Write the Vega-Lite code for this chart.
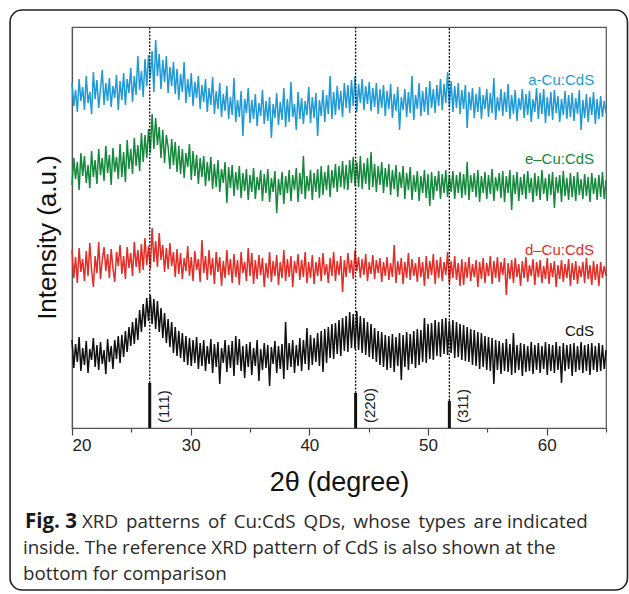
{
  "$schema": "https://vega.github.io/schema/vega-lite/v6.json",
  "width": 534,
  "height": 401,
  "autosize": {"type": "none"},
  "padding": {"left": 72, "top": 27, "right": 23, "bottom": 166},
  "background": "white",
  "config": {
    "view": {"stroke": "#555", "strokeWidth": 1.2},
    "axis": {"grid": false}
  },
  "datasets": {
    "xrd": [
      {"x":20,"a":345,"e":243,"d":178,"c":88},{"x":20.15,"a":322,"e":270,"d":150,"c":60},{"x":20.3,"a":338,"e":249,"d":171,"c":84},{"x":20.45,"a":316,"e":266,"d":145,"c":66},{"x":20.6,"a":349,"e":238,"d":180,"c":91},{"x":20.75,"a":327,"e":275,"d":156,"c":57},{"x":20.9,"a":341,"e":252,"d":169,"c":80},{"x":21.05,"a":318,"e":272,"d":147,"c":63},{"x":21.2,"a":352,"e":245,"d":177,"c":87},{"x":21.35,"a":325,"e":263,"d":152,"c":55},
      {"x":21.5,"a":336,"e":240,"d":185,"c":79},{"x":21.65,"a":314,"e":277,"d":158,"c":68},{"x":21.8,"a":356,"e":251,"d":141,"c":90},{"x":21.95,"a":329,"e":268,"d":172,"c":61},{"x":22.1,"a":348,"e":244,"d":155,"c":83},{"x":22.25,"a":320,"e":279,"d":186,"c":58},{"x":22.4,"a":339,"e":253,"d":149,"c":86},{"x":22.55,"a":358,"e":270,"d":168,"c":64},{"x":22.7,"a":323,"e":247,"d":181,"c":78},{"x":22.85,"a":345,"e":282,"d":157,"c":54},
      {"x":23,"a":327,"e":255,"d":174,"c":89},{"x":23.15,"a":350,"e":273,"d":150,"c":66},{"x":23.3,"a":321,"e":243,"d":179,"c":82},{"x":23.45,"a":342,"e":280,"d":160,"c":59},{"x":23.6,"a":330,"e":256,"d":146,"c":88},{"x":23.75,"a":353,"e":271,"d":176,"c":69},{"x":23.9,"a":318,"e":249,"d":162,"c":92},{"x":24.05,"a":347,"e":284,"d":183,"c":65},{"x":24.2,"a":328,"e":251,"d":154,"c":93},{"x":24.35,"a":355,"e":276,"d":172,"c":71},
      {"x":24.5,"a":323,"e":246,"d":149,"c":97},{"x":24.65,"a":349,"e":288,"d":181,"c":76},{"x":24.8,"a":335,"e":259,"d":160,"c":101},{"x":24.95,"a":360,"e":279,"d":175,"c":82},{"x":25.1,"a":326,"e":254,"d":152,"c":106},{"x":25.25,"a":352,"e":290,"d":186,"c":84},{"x":25.4,"a":333,"e":262,"d":161,"c":110},{"x":25.55,"a":372,"e":283,"d":178,"c":88},{"x":25.7,"a":338,"e":257,"d":155,"c":118},{"x":25.85,"a":357,"e":295,"d":184,"c":96},
      {"x":26,"a":331,"e":266,"d":158,"c":124},{"x":26.15,"a":369,"e":293,"d":190,"c":101},{"x":26.3,"a":342,"e":270,"d":163,"c":130},{"x":26.45,"a":373,"e":299,"d":182,"c":107},{"x":26.6,"a":350,"e":275,"d":159,"c":133},{"x":26.75,"a":377,"e":314,"d":200,"c":104},{"x":26.9,"a":336,"e":279,"d":166,"c":129},{"x":27.05,"a":388,"e":310,"d":187,"c":99},{"x":27.2,"a":352,"e":283,"d":161,"c":127},{"x":27.35,"a":374,"e":301,"d":195,"c":96},
      {"x":27.5,"a":339,"e":270,"d":168,"c":120},{"x":27.65,"a":368,"e":298,"d":183,"c":90},{"x":27.8,"a":346,"e":265,"d":156,"c":115},{"x":27.95,"a":372,"e":293,"d":180,"c":85},{"x":28.1,"a":335,"e":281,"d":159,"c":109},{"x":28.25,"a":361,"e":259,"d":185,"c":81},{"x":28.4,"a":342,"e":289,"d":162,"c":106},{"x":28.55,"a":366,"e":263,"d":176,"c":75},{"x":28.7,"a":334,"e":286,"d":151,"c":101},{"x":28.85,"a":359,"e":256,"d":179,"c":72},
      {"x":29,"a":328,"e":282,"d":154,"c":97},{"x":29.15,"a":354,"e":254,"d":175,"c":70},{"x":29.3,"a":336,"e":279,"d":149,"c":95},{"x":29.45,"a":366,"e":250,"d":170,"c":66},{"x":29.6,"a":325,"e":275,"d":157,"c":92},{"x":29.75,"a":349,"e":261,"d":182,"c":63},{"x":29.9,"a":331,"e":284,"d":152,"c":90},{"x":30.05,"a":355,"e":248,"d":171,"c":62},{"x":30.2,"a":322,"e":277,"d":147,"c":88},{"x":30.35,"a":346,"e":252,"d":177,"c":65},
      {"x":30.5,"a":330,"e":273,"d":158,"c":91},{"x":30.65,"a":352,"e":244,"d":169,"c":59},{"x":30.8,"a":319,"e":270,"d":146,"c":85},{"x":30.95,"a":343,"e":251,"d":188,"c":62},{"x":31.1,"a":326,"e":272,"d":155,"c":88},{"x":31.25,"a":349,"e":242,"d":172,"c":57},{"x":31.4,"a":316,"e":266,"d":148,"c":82},{"x":31.55,"a":340,"e":247,"d":178,"c":64},{"x":31.7,"a":323,"e":271,"d":153,"c":89},{"x":31.85,"a":351,"e":239,"d":170,"c":55},
      {"x":32,"a":314,"e":264,"d":144,"c":84},{"x":32.15,"a":337,"e":241,"d":176,"c":61},{"x":32.3,"a":319,"e":268,"d":156,"c":86},{"x":32.45,"a":345,"e":236,"d":171,"c":44},{"x":32.6,"a":311,"e":259,"d":142,"c":80},{"x":32.75,"a":334,"e":245,"d":167,"c":65},{"x":32.9,"a":317,"e":266,"d":150,"c":88},{"x":33.05,"a":342,"e":225,"d":178,"c":56},{"x":33.2,"a":309,"e":261,"d":153,"c":83},{"x":33.35,"a":331,"e":240,"d":169,"c":60},
      {"x":33.5,"a":313,"e":263,"d":145,"c":87},{"x":33.65,"a":350,"e":232,"d":174,"c":52},{"x":33.8,"a":306,"e":256,"d":151,"c":92},{"x":33.95,"a":328,"e":238,"d":168,"c":63},{"x":34.1,"a":311,"e":262,"d":143,"c":89},{"x":34.25,"a":337,"e":230,"d":176,"c":57},{"x":34.4,"a":292,"e":255,"d":155,"c":82},{"x":34.55,"a":329,"e":237,"d":166,"c":50},{"x":34.7,"a":315,"e":259,"d":147,"c":84},{"x":34.85,"a":340,"e":228,"d":180,"c":61},
      {"x":35,"a":305,"e":253,"d":152,"c":86},{"x":35.15,"a":328,"e":236,"d":175,"c":53},{"x":35.3,"a":309,"e":260,"d":144,"c":80},{"x":35.45,"a":334,"e":229,"d":168,"c":62},{"x":35.6,"a":302,"e":251,"d":149,"c":88},{"x":35.75,"a":325,"e":238,"d":173,"c":47},{"x":35.9,"a":312,"e":258,"d":153,"c":79},{"x":36.05,"a":338,"e":227,"d":170,"c":58},{"x":36.2,"a":304,"e":254,"d":141,"c":85},{"x":36.35,"a":327,"e":235,"d":165,"c":60},
      {"x":36.5,"a":307,"e":259,"d":150,"c":83},{"x":36.65,"a":331,"e":226,"d":176,"c":42},{"x":36.8,"a":290,"e":250,"d":146,"c":81},{"x":36.95,"a":324,"e":236,"d":167,"c":64},{"x":37.1,"a":310,"e":257,"d":152,"c":87},{"x":37.25,"a":335,"e":215,"d":173,"c":55},{"x":37.4,"a":303,"e":249,"d":143,"c":82},{"x":37.55,"a":326,"e":233,"d":166,"c":59},{"x":37.7,"a":308,"e":256,"d":150,"c":84},{"x":37.85,"a":340,"e":224,"d":178,"c":49},
      {"x":38,"a":301,"e":252,"d":147,"c":106},{"x":38.15,"a":329,"e":235,"d":169,"c":58},{"x":38.3,"a":306,"e":258,"d":151,"c":85},{"x":38.45,"a":346,"e":227,"d":172,"c":61},{"x":38.6,"a":311,"e":253,"d":141,"c":88},{"x":38.75,"a":324,"e":238,"d":167,"c":55},{"x":38.9,"a":298,"e":260,"d":155,"c":83},{"x":39.05,"a":336,"e":226,"d":174,"c":62},{"x":39.2,"a":309,"e":255,"d":148,"c":90},{"x":39.35,"a":330,"e":234,"d":168,"c":57},
      {"x":39.5,"a":304,"e":272,"d":151,"c":88},{"x":39.65,"a":327,"e":229,"d":176,"c":64},{"x":39.8,"a":313,"e":252,"d":145,"c":100},{"x":39.95,"a":341,"e":237,"d":166,"c":58},{"x":40.1,"a":305,"e":258,"d":150,"c":93},{"x":40.25,"a":331,"e":228,"d":173,"c":63},{"x":40.4,"a":310,"e":255,"d":144,"c":90},{"x":40.55,"a":335,"e":236,"d":166,"c":66},{"x":40.7,"a":292,"e":259,"d":152,"c":95},{"x":40.85,"a":328,"e":230,"d":171,"c":62},
      {"x":41,"a":312,"e":262,"d":147,"c":97},{"x":41.15,"a":338,"e":233,"d":175,"c":56},{"x":41.3,"a":306,"e":256,"d":153,"c":99},{"x":41.45,"a":333,"e":238,"d":164,"c":65},{"x":41.6,"a":314,"e":263,"d":145,"c":101},{"x":41.75,"a":352,"e":231,"d":170,"c":70},{"x":41.9,"a":309,"e":258,"d":152,"c":104},{"x":42.05,"a":336,"e":240,"d":176,"c":69},{"x":42.2,"a":313,"e":264,"d":147,"c":105},{"x":42.35,"a":342,"e":236,"d":167,"c":74},
      {"x":42.5,"a":318,"e":262,"d":153,"c":108},{"x":42.65,"a":337,"e":241,"d":172,"c":72},{"x":42.8,"a":311,"e":267,"d":136,"c":110},{"x":42.95,"a":345,"e":239,"d":168,"c":77},{"x":43.1,"a":320,"e":263,"d":151,"c":112},{"x":43.25,"a":343,"e":238,"d":175,"c":76},{"x":43.4,"a":315,"e":268,"d":155,"c":116},{"x":43.55,"a":348,"e":245,"d":168,"c":80},{"x":43.7,"a":322,"e":271,"d":149,"c":114},{"x":43.85,"a":352,"e":242,"d":178,"c":79},
      {"x":44,"a":316,"e":266,"d":157,"c":117},{"x":44.15,"a":344,"e":241,"d":171,"c":78},{"x":44.3,"a":325,"e":272,"d":150,"c":112},{"x":44.45,"a":349,"e":239,"d":169,"c":75},{"x":44.6,"a":318,"e":265,"d":153,"c":110},{"x":44.75,"a":342,"e":244,"d":174,"c":73},{"x":44.9,"a":324,"e":270,"d":147,"c":106},{"x":45.05,"a":346,"e":238,"d":166,"c":71},{"x":45.2,"a":317,"e":276,"d":154,"c":104},{"x":45.35,"a":340,"e":241,"d":173,"c":69},
      {"x":45.5,"a":321,"e":264,"d":149,"c":100},{"x":45.65,"a":345,"e":236,"d":168,"c":66},{"x":45.8,"a":314,"e":262,"d":155,"c":97},{"x":45.95,"a":339,"e":243,"d":170,"c":63},{"x":46.1,"a":320,"e":266,"d":146,"c":96},{"x":46.25,"a":343,"e":235,"d":166,"c":61},{"x":46.4,"a":312,"e":260,"d":152,"c":93},{"x":46.55,"a":337,"e":241,"d":171,"c":58},{"x":46.7,"a":319,"e":264,"d":148,"c":92},{"x":46.85,"a":344,"e":233,"d":165,"c":60},
      {"x":47,"a":310,"e":258,"d":151,"c":94},{"x":47.15,"a":334,"e":239,"d":183,"c":56},{"x":47.3,"a":317,"e":263,"d":145,"c":91},{"x":47.45,"a":341,"e":231,"d":167,"c":62},{"x":47.6,"a":298,"e":256,"d":153,"c":95},{"x":47.75,"a":331,"e":240,"d":170,"c":48},{"x":47.9,"a":318,"e":262,"d":144,"c":93},{"x":48.05,"a":339,"e":229,"d":166,"c":61},{"x":48.2,"a":311,"e":255,"d":150,"c":96},{"x":48.35,"a":336,"e":238,"d":175,"c":58},
      {"x":48.5,"a":315,"e":261,"d":148,"c":94},{"x":48.65,"a":352,"e":228,"d":169,"c":64},{"x":48.8,"a":308,"e":253,"d":152,"c":97},{"x":48.95,"a":333,"e":236,"d":165,"c":60},{"x":49.1,"a":319,"e":257,"d":146,"c":99},{"x":49.25,"a":345,"e":227,"d":171,"c":63},{"x":49.4,"a":312,"e":252,"d":151,"c":98},{"x":49.55,"a":337,"e":235,"d":166,"c":66},{"x":49.7,"a":316,"e":258,"d":142,"c":110},{"x":49.85,"a":341,"e":230,"d":172,"c":65},
      {"x":50,"a":313,"e":254,"d":149,"c":104},{"x":50.15,"a":347,"e":222,"d":167,"c":69},{"x":50.3,"a":320,"e":256,"d":153,"c":105},{"x":50.45,"a":339,"e":228,"d":174,"c":68},{"x":50.6,"a":315,"e":252,"d":144,"c":108},{"x":50.75,"a":343,"e":237,"d":168,"c":72},{"x":50.9,"a":322,"e":257,"d":150,"c":106},{"x":51.05,"a":349,"e":229,"d":171,"c":71},{"x":51.2,"a":318,"e":254,"d":147,"c":109},{"x":51.35,"a":344,"e":235,"d":166,"c":74},
      {"x":51.5,"a":325,"e":258,"d":153,"c":110},{"x":51.65,"a":356,"e":231,"d":176,"c":73},{"x":51.8,"a":321,"e":253,"d":144,"c":107},{"x":51.95,"a":347,"e":236,"d":167,"c":75},{"x":52.1,"a":316,"e":257,"d":150,"c":108},{"x":52.25,"a":342,"e":229,"d":172,"c":70},{"x":52.4,"a":320,"e":253,"d":148,"c":106},{"x":52.55,"a":345,"e":235,"d":165,"c":71},{"x":52.7,"a":314,"e":256,"d":142,"c":104},{"x":52.85,"a":338,"e":230,"d":169,"c":68},
      {"x":53,"a":319,"e":254,"d":143,"c":103},{"x":53.15,"a":343,"e":233,"d":166,"c":67},{"x":53.3,"a":300,"e":266,"d":150,"c":101},{"x":53.45,"a":336,"e":228,"d":171,"c":66},{"x":53.6,"a":318,"e":253,"d":147,"c":99},{"x":53.75,"a":340,"e":236,"d":164,"c":63},{"x":53.9,"a":310,"e":255,"d":151,"c":98},{"x":54.05,"a":334,"e":231,"d":168,"c":62},{"x":54.2,"a":316,"e":258,"d":141,"c":96},{"x":54.35,"a":341,"e":226,"d":166,"c":59},
      {"x":54.5,"a":309,"e":252,"d":149,"c":95},{"x":54.65,"a":333,"e":235,"d":170,"c":61},{"x":54.8,"a":319,"e":256,"d":145,"c":92},{"x":54.95,"a":339,"e":229,"d":165,"c":58},{"x":55.1,"a":311,"e":253,"d":152,"c":91},{"x":55.25,"a":335,"e":234,"d":172,"c":57},{"x":55.4,"a":315,"e":259,"d":144,"c":90},{"x":55.55,"a":350,"e":227,"d":167,"c":44},{"x":55.7,"a":308,"e":251,"d":150,"c":88},{"x":55.85,"a":331,"e":237,"d":171,"c":58},
      {"x":56,"a":317,"e":255,"d":146,"c":87},{"x":56.15,"a":339,"e":230,"d":166,"c":54},{"x":56.3,"a":312,"e":257,"d":153,"c":85},{"x":56.45,"a":336,"e":226,"d":170,"c":57},{"x":56.6,"a":316,"e":252,"d":133,"c":89},{"x":56.75,"a":344,"e":235,"d":165,"c":56},{"x":56.9,"a":309,"e":258,"d":149,"c":84},{"x":57.05,"a":333,"e":218,"d":168,"c":53},{"x":57.2,"a":314,"e":253,"d":145,"c":95},{"x":57.35,"a":338,"e":234,"d":170,"c":55},
      {"x":57.5,"a":307,"e":256,"d":151,"c":83},{"x":57.65,"a":330,"e":227,"d":164,"c":58},{"x":57.8,"a":318,"e":251,"d":142,"c":85},{"x":57.95,"a":339,"e":233,"d":167,"c":52},{"x":58.1,"a":310,"e":254,"d":150,"c":84},{"x":58.25,"a":334,"e":229,"d":171,"c":56},{"x":58.4,"a":313,"e":257,"d":146,"c":82},{"x":58.55,"a":337,"e":235,"d":163,"c":57},{"x":58.7,"a":306,"e":250,"d":152,"c":86},{"x":58.85,"a":329,"e":226,"d":169,"c":54},
      {"x":59,"a":316,"e":255,"d":143,"c":83},{"x":59.15,"a":340,"e":232,"d":166,"c":58},{"x":59.3,"a":309,"e":252,"d":151,"c":85},{"x":59.45,"a":335,"e":228,"d":168,"c":55},{"x":59.6,"a":314,"e":258,"d":145,"c":82},{"x":59.75,"a":339,"e":234,"d":162,"c":59},{"x":59.9,"a":305,"e":250,"d":149,"c":86},{"x":60.05,"a":331,"e":227,"d":170,"c":53},{"x":60.2,"a":312,"e":254,"d":144,"c":84},{"x":60.35,"a":336,"e":233,"d":165,"c":57},
      {"x":60.5,"a":308,"e":256,"d":151,"c":83},{"x":60.65,"a":338,"e":220,"d":167,"c":55},{"x":60.8,"a":315,"e":251,"d":141,"c":86},{"x":60.95,"a":332,"e":235,"d":163,"c":58},{"x":61.1,"a":306,"e":253,"d":149,"c":82},{"x":61.25,"a":329,"e":226,"d":168,"c":45},{"x":61.4,"a":313,"e":257,"d":146,"c":85},{"x":61.55,"a":337,"e":232,"d":164,"c":57},{"x":61.7,"a":309,"e":250,"d":150,"c":83},{"x":61.85,"a":333,"e":228,"d":169,"c":59},
      {"x":62,"a":311,"e":255,"d":142,"c":84},{"x":62.15,"a":335,"e":231,"d":165,"c":52},{"x":62.3,"a":307,"e":252,"d":148,"c":85},{"x":62.45,"a":330,"e":227,"d":167,"c":56},{"x":62.6,"a":314,"e":256,"d":144,"c":82},{"x":62.75,"a":338,"e":233,"d":162,"c":58},{"x":62.9,"a":298,"e":249,"d":151,"c":86},{"x":63.05,"a":328,"e":229,"d":166,"c":55},{"x":63.2,"a":310,"e":254,"d":145,"c":83},{"x":63.35,"a":334,"e":232,"d":170,"c":57},
      {"x":63.5,"a":306,"e":251,"d":149,"c":84},{"x":63.65,"a":331,"e":226,"d":163,"c":53},{"x":63.8,"a":313,"e":255,"d":143,"c":85},{"x":63.95,"a":336,"e":234,"d":167,"c":58},{"x":64.1,"a":304,"e":250,"d":148,"c":82},{"x":64.25,"a":329,"e":228,"d":164,"c":56},{"x":64.4,"a":309,"e":253,"d":142,"c":85},{"x":64.55,"a":332,"e":231,"d":166,"c":57},{"x":64.7,"a":311,"e":256,"d":150,"c":83},{"x":64.85,"a":327,"e":229,"d":162,"c":59},
      {"x":65,"a":315,"e":248,"d":152,"c":78}
    ],
    "refs": [
      {"pos": 26.55, "h": 45, "hkl": "(111)"},
      {"pos": 43.9, "h": 35, "hkl": "(220)"},
      {"pos": 51.8, "h": 27, "hkl": "(311)"}
    ],
    "names": [
      {"s": "a", "name": "a-Cu:CdS", "lx": 64.0, "ly": 348},
      {"s": "e", "name": "e–Cu:CdS", "lx": 64.0, "ly": 269},
      {"s": "d", "name": "d–Cu:CdS", "lx": 64.0, "ly": 178},
      {"s": "c", "name": "CdS", "lx": 64.0, "ly": 97}
    ]
  },
  "layer": [
    {
      "data": {"values": [{"k": 1}]},
      "mark": {"type": "rect", "filled": false, "stroke": "#222", "strokeWidth": 1.6, "cornerRadius": 12},
      "encoding": {
        "x": {"datum": 14.78, "type": "quantitative"},
        "x2": {"datum": 66.81},
        "y": {"datum": 418, "type": "quantitative"},
        "y2": {"datum": -162}
      }
    },
    {
      "data": {"name": "xrd"},
      "transform": [{"fold": ["a", "e", "d", "c"], "as": ["series", "v"]}],
      "mark": {"type": "line", "strokeWidth": 1.5, "interpolate": "linear"},
      "encoding": {
        "x": {
          "field": "x", "type": "quantitative", "title": "2θ (degree)",
          "scale": {"domain": [20, 65], "nice": false, "zero": false},
          "axis": {
            "values": [20, 25, 30, 35, 40, 45, 50, 55, 60, 65],
            "labelExpr": "datum.value % 10 === 0 ? datum.label : ''",
            "tickSize": {"condition": {"test": "datum.value % 10 === 0", "value": 7}, "value": 4},
            "tickColor": "#444", "domainColor": "#555", "domainWidth": 1.2, "tickWidth": 1.2,
            "labelFont": "Liberation Sans", "labelFontSize": 17, "labelColor": "#222", "labelPadding": 2,
            "titleFont": "Liberation Sans", "titleFontSize": 27, "titleFontWeight": "normal", "titleColor": "#111", "titlePadding": 16
          }
        },
        "y": {
          "field": "v", "type": "quantitative", "title": "Intensity (a.u.)",
          "scale": {"domain": [0, 401], "nice": false, "zero": false},
          "axis": {
            "labels": false, "ticks": false, "domainColor": "#555", "domainWidth": 1.2,
            "titleFont": "Liberation Sans", "titleFontSize": 26, "titleFontWeight": "normal", "titleColor": "#111", "titlePadding": 12, "titleY": 210
          }
        },
        "color": {
          "field": "series", "type": "nominal", "legend": null,
          "scale": {"domain": ["a", "e", "d", "c"], "range": ["#1f9ad6", "#14893c", "#e42d26", "#111111"]}
        }
      }
    },
    {
      "data": {"name": "refs"},
      "mark": {"type": "rule", "strokeDash": [2, 1.5], "strokeWidth": 1.3, "color": "#111"},
      "encoding": {
        "x": {"field": "pos", "type": "quantitative", "title": "2θ (degree)"},
        "y": {"field": "h", "type": "quantitative", "title": "Intensity (a.u.)"},
        "y2": {"datum": 401}
      }
    },
    {
      "data": {"name": "refs"},
      "mark": {"type": "rule", "strokeWidth": 3, "color": "#111"},
      "encoding": {
        "x": {"field": "pos", "type": "quantitative", "title": "2θ (degree)"},
        "y": {"field": "h", "type": "quantitative", "title": "Intensity (a.u.)"},
        "y2": {"datum": 0}
      }
    },
    {
      "data": {"name": "refs"},
      "mark": {"type": "text", "angle": 270, "align": "left", "baseline": "middle", "dy": 14, "font": "Liberation Sans", "fontSize": 15, "color": "#222"},
      "encoding": {
        "x": {"field": "pos", "type": "quantitative", "title": "2θ (degree)"},
        "y": {"datum": 5, "type": "quantitative"},
        "text": {"field": "hkl", "type": "nominal"}
      }
    },
    {
      "data": {"name": "names"},
      "mark": {"type": "text", "align": "right", "baseline": "middle", "font": "Liberation Sans", "fontSize": 15},
      "encoding": {
        "x": {"field": "lx", "type": "quantitative", "title": "2θ (degree)"},
        "y": {"field": "ly", "type": "quantitative", "title": "Intensity (a.u.)"},
        "text": {"field": "name", "type": "nominal"},
        "color": {"field": "s", "type": "nominal", "legend": null}
      }
    },
    {
      "data": {"values": [{"t": "Fig. 3"}]},
      "mark": {"type": "text", "align": "left", "baseline": "middle", "font": "Open Sans", "fontSize": 20.5, "fontWeight": "bold", "color": "#1a1a1a", "dx": -47},
      "encoding": {
        "x": {"datum": 20, "type": "quantitative"},
        "y": {"datum": -94, "type": "quantitative"},
        "text": {"field": "t", "type": "nominal"}
      }
    },
    {
      "data": {"values": [
        {"t": "XRD \u2009patterns \u2009of \u2009Cu:CdS \u2009QDs, \u2009whose \u2009types \u2009are indicated", "line": -94}
      ]},
      "mark": {"type": "text", "align": "left", "baseline": "middle", "font": "Open Sans", "fontSize": 18.8, "color": "#2a2a2a", "dx": 10},
      "encoding": {
        "x": {"datum": 20, "type": "quantitative"},
        "y": {"field": "line", "type": "quantitative", "title": "Intensity (a.u.)"},
        "text": {"field": "t", "type": "nominal"}
      }
    },
    {
      "data": {"values": [
        {"t": "inside. The reference XRD pattern of CdS is also shown at the", "line": -120},
        {"t": "bottom for comparison", "line": -146}
      ]},
      "mark": {"type": "text", "align": "left", "baseline": "middle", "font": "Open Sans", "fontSize": 18.8, "color": "#2a2a2a", "dx": -49},
      "encoding": {
        "x": {"datum": 20, "type": "quantitative"},
        "y": {"field": "line", "type": "quantitative", "title": "Intensity (a.u.)"},
        "text": {"field": "t", "type": "nominal"}
      }
    }
  ]
}
